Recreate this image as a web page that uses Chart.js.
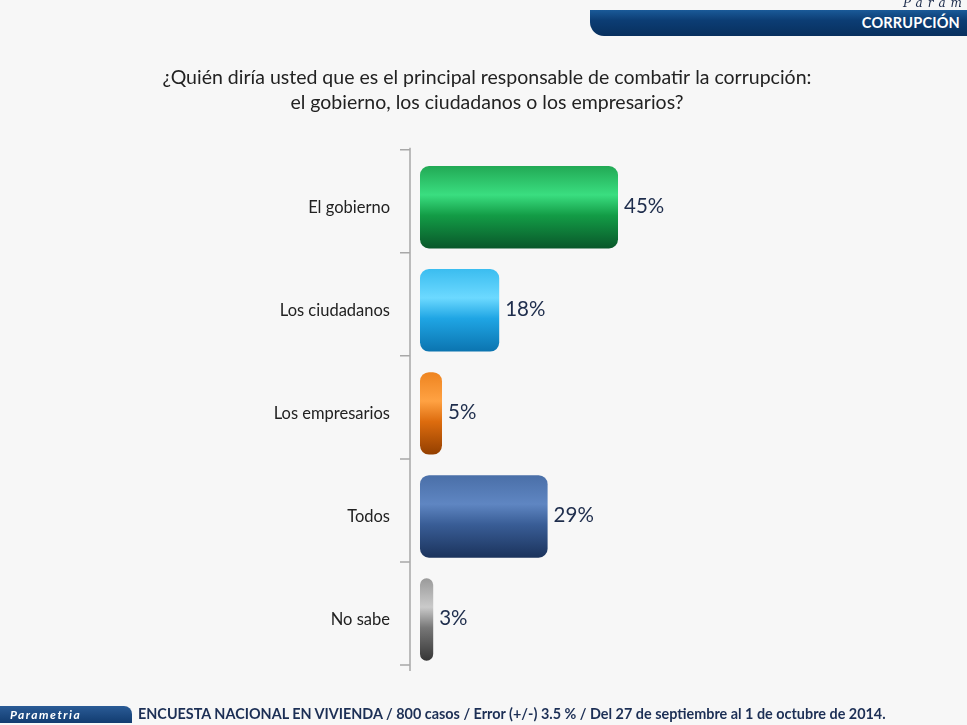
<!DOCTYPE html>
<html>
<head>
<meta charset="utf-8">
<script src="https://cdn.jsdelivr.net/npm/chart.js@4"></script>
<style>
  body { margin: 0; background: #f7f7f7; }
  #wrap { position: relative; width: 967px; height: 725px; overflow: hidden; font-family: Lato, sans-serif; }
  #myChart { position: absolute; left: 0; top: 0; }
  .band { position: absolute; left: 590px; top: 10px; width: 400px; height: 26px;
          background: linear-gradient(#1a5a98, #0c3d74 40%, #08305e);
          border-bottom-left-radius: 14px; }
  .band span { position: absolute; right: 30px; top: 4px; color: #fff; font-weight: bold; font-size: 14.5px; letter-spacing: 0.2px; }
  .brand { position: absolute; right: 0; top: -4px; font-family: "DejaVu Serif", serif; font-style: italic;
           font-size: 12px; letter-spacing: 5px; color: #1a2a4a; }
  .foot { position: absolute; left: 0; top: 706px; height: 17px; width: 132px;
          background: linear-gradient(#2a5b96, #123c70); border-top-right-radius: 8px; }
  .foot span { position: absolute; left: 10px; top: 1px; color: #fff; font-style: italic; font-weight: bold;
               font-size: 12px; letter-spacing: 1.5px; }
  .note { position: absolute; left: 138px; top: 705px; font-size: 14.4px; font-weight: bold; color: #1c2f55; white-space: nowrap; }
</style>
</head>
<body>
<div id="wrap">
  <canvas id="myChart" width="967" height="725"></canvas>
  <div class="brand">Param</div>
  <div class="band"><span>CORRUPCIÓN</span></div>
  <div class="foot"><span>Parametria</span></div>
  <div class="note">ENCUESTA NACIONAL EN VIVIENDA / 800 casos / Error (+/-) 3.5 % / Del 27 de septiembre al 1 de octubre de 2014.</div>
</div>
<script>
const categories = ['El gobierno', 'Los ciudadanos', 'Los empresarios', 'Todos', 'No sabe'];
const values = [45, 18, 5, 29, 3];
const titleLines = ['¿Quién diría usted que es el principal responsable de combatir la corrupción:',
                    'el gobierno, los ciudadanos o los empresarios?'];

// cylinder-like gradients: top, highlight, mid, bottom
const palettes = [
    ['#22a955', '#3ade80', '#139c46', '#09572a'],  /* verde */
    ['#3bbdf0', '#6cd9ff', '#1fa5e4', '#0b74b0'],  /* azul claro */
    ['#ee8420', '#ffa243', '#dd6c0e', '#933f00'],  /* naranja */
    ['#4a6fa8', '#5f86c2', '#395d96', '#1b335c'],  /* azul oscuro */
    ['#9a9a9a', '#cacaca', '#777777', '#363636']   /* gris */
];
const barPct = 0.8;

function barFill(c) {
    const chart = c.chart;
    const pal = palettes[c.dataIndex];
    if (!chart.chartArea) return pal[2];
    const y = chart.scales.y;
    const band = (chart.chartArea.bottom - chart.chartArea.top) / categories.length;
    const yc = y.getPixelForValue(c.dataIndex);
    const h = band * barPct / 2;
    const g = chart.ctx.createLinearGradient(0, yc - h, 0, yc + h);
    g.addColorStop(0, pal[0]);
    g.addColorStop(0.35, pal[1]);
    g.addColorStop(0.6, pal[2]);
    g.addColorStop(1, pal[3]);
    return g;
}

// axis line drawn a bit left of the bars, with ticks between categories
const axisPlugin = {
    id: 'axisLine',
    beforeDatasetsDraw(chart) {
        const { ctx, chartArea } = chart;
        const x = chartArea.left - 10;
        const band = (chartArea.bottom - chartArea.top) / categories.length;
        ctx.save();
        ctx.strokeStyle = '#a8a8a8';
        ctx.lineWidth = 1.5;
        ctx.beginPath();
        ctx.moveTo(x, chartArea.top - 8);
        ctx.lineTo(x, chartArea.bottom);
        for (let i = 0; i <= categories.length; i++) {
            const ty = chartArea.top - 6 + i * band;
            ctx.moveTo(x - 10, ty);
            ctx.lineTo(x, ty);
        }
        ctx.stroke();
        ctx.restore();
    }
};

const valueLabels = {
    id: 'valueLabels',
    afterDatasetsDraw(chart) {
        const { ctx } = chart;
        const meta = chart.getDatasetMeta(0);
        ctx.save();
        ctx.font = '20.5px Lato';
        ctx.fillStyle = '#1e2d4c';
        ctx.textBaseline = 'middle';
        meta.data.forEach((bar, i) => {
            ctx.fillText(values[i] + '%', bar.x + 6, bar.y - 1);
        });
        ctx.restore();
    }
};

const ctx = document.getElementById('myChart').getContext('2d');
const myChart = new Chart(ctx, {
    type: 'bar',
    data: {
        labels: categories,
        datasets: [{
            data: values,
            backgroundColor: barFill,
            borderRadius: 9,
            borderSkipped: false,
            barPercentage: barPct,
            categoryPercentage: 1
        }]
    },
    options: {
        indexAxis: 'y',
        responsive: false,
        animation: false,
        layout: { padding: { left: 114, right: 107, bottom: 54 } },
        scales: {
            x: { display: false, min: 0, max: 100 },
            y: {
                afterFit: (scale) => { scale.width = 306; },
                grid: { display: false },
                border: { display: false },
                ticks: { padding: 22, color: '#222', font: { family: 'Lato', size: 16.5 } }
            }
        },
        plugins: {
            legend: { display: false },
            tooltip: { enabled: false },
            title: {
                display: true,
                text: titleLines,
                color: '#222',
                font: { family: 'Lato', size: 19.5, weight: 'normal', lineHeight: 1.3 },
                padding: { top: 65, bottom: 40 }
            }
        }
    },
    plugins: [axisPlugin, valueLabels]
});
</script>
</body>
</html>
